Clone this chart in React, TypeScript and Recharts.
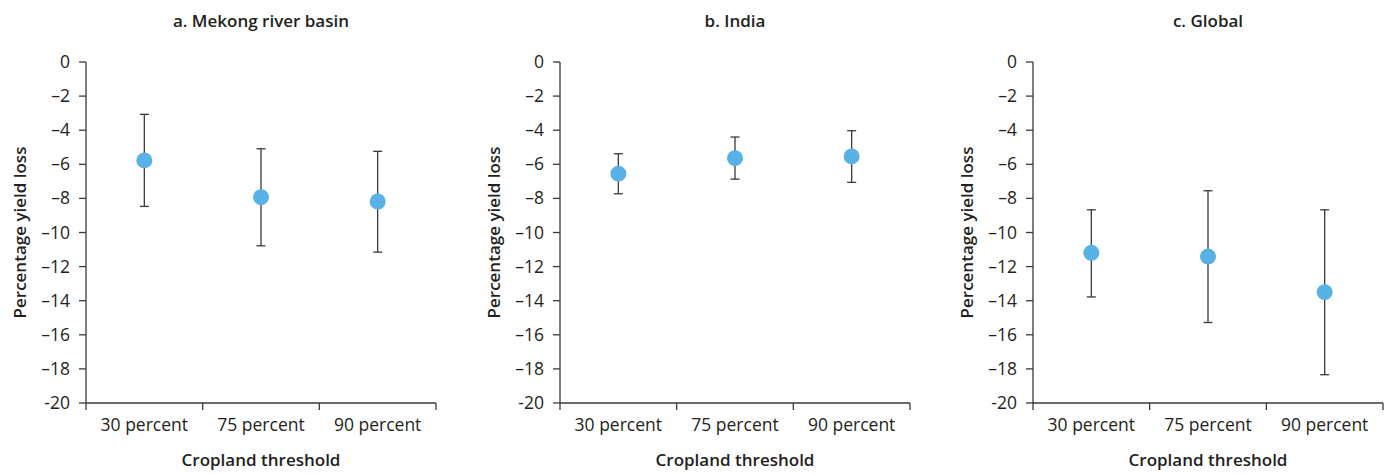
import { ComposedChart, Scatter, ErrorBar, XAxis, YAxis } from "recharts";

const categories = ["30 percent", "75 percent", "90 percent"];
const yTicks = [0, -2, -4, -6, -8, -10, -12, -14, -16, -18, -20];

const mekongMean = [-5.77, -7.93, -8.18];
const mekongLow = [-8.47, -10.78, -11.15];
const mekongHigh = [-3.07, -5.09, -5.24];

const indiaMean = [-6.55, -5.64, -5.54];
const indiaLow = [-7.73, -6.87, -7.06];
const indiaHigh = [-5.38, -4.4, -4.03];

const globalMean = [-11.19, -11.41, -13.5];
const globalLow = [-13.78, -15.28, -18.34];
const globalHigh = [-8.67, -7.55, -8.67];

const TEXT = "#231f20";
const AXIS = "#3a3a3a";
const DOT = "#59b2e6";
const FONT = "'Open Sans', 'Noto Sans', sans-serif";

const CHART_W = 442;
const CHART_H = 474;
const MARGIN = { top: 62, right: 6, bottom: 0, left: 0 };
const Y_AXIS_W = 86;
const X_AXIS_H = 71;
const PLOT_W = CHART_W - MARGIN.left - MARGIN.right - Y_AXIS_W;
const PLOT_H = CHART_H - MARGIN.top - MARGIN.bottom - X_AXIS_H;
const STEP = PLOT_W / categories.length;

function buildRows(mean: number[], low: number[], high: number[]) {
  return categories.map((cat, i) => ({
    cat,
    value: mean[i],
    err: [mean[i] - low[i], high[i] - mean[i]],
  }));
}

const CatTick = (props: any) => {
  const { x, y, payload, index } = props;
  return (
    <g>
      <line x1={x - STEP / 2} x2={x - STEP / 2} y1={y} y2={y + 7} stroke={AXIS} strokeWidth={1.3} />
      {index === categories.length - 1 && (
        <line x1={x + STEP / 2} x2={x + STEP / 2} y1={y} y2={y + 7} stroke={AXIS} strokeWidth={1.3} />
      )}
      <text x={x} y={y + 28} textAnchor="middle" fill={TEXT} fontSize={17.5} fontFamily={FONT}>
        {payload.value}
      </text>
    </g>
  );
};

const YTick = (props: any) => {
  const { x, y, payload } = props;
  const label = payload.value === 0 ? "0" : payload.value === -20 ? "-20" : "\u2013" + Math.abs(payload.value);
  return (
    <text x={x} y={y} dy={6} textAnchor="end" fill={TEXT} fontSize={17.5} fontFamily={FONT}>
      {label}
    </text>
  );
};

const Dot = (props: any) => <circle cx={props.cx} cy={props.cy} r={8} fill={DOT} />;

const labelStyle = {
  position: "absolute" as const,
  width: 300,
  textAlign: "center" as const,
  fontFamily: FONT,
  fontWeight: 600,
  fontSize: 17,
  lineHeight: "23px",
  color: TEXT,
};

function Panel({ title, rows }: { title: string; rows: any[] }) {
  const cx = Y_AXIS_W + PLOT_W / 2;
  return (
    <div style={{ position: "relative", width: CHART_W, height: CHART_H }}>
      <div style={{ ...labelStyle, left: cx - 150, top: 8.5 }}>{title}</div>
      <div style={{ ...labelStyle, left: cx - 150, top: 447.5 }}>Cropland threshold</div>
      <div
        style={{
          ...labelStyle,
          left: 18.5 - 150,
          top: MARGIN.top + PLOT_H / 2 - 11.5,
          transform: "rotate(-90deg)",
        }}
      >
        Percentage yield loss
      </div>
      <div style={{ position: "absolute", left: 0, top: 0 }}>
        <ComposedChart width={CHART_W} height={CHART_H} data={rows} margin={MARGIN}>
          <XAxis
            dataKey="cat"
            type="category"
            height={X_AXIS_H}
            interval={0}
            padding={{ left: STEP / 2, right: STEP / 2 }}
            tickSize={0}
            tickMargin={0}
            tickLine={false}
            axisLine={{ stroke: AXIS, strokeWidth: 1.3 }}
            tick={<CatTick />}
          />
          <YAxis
            type="number"
            domain={[-20, 0]}
            ticks={yTicks}
            interval={0}
            width={Y_AXIS_W}
            tickSize={7}
            tickMargin={9}
            tickLine={{ stroke: AXIS, strokeWidth: 1.3 }}
            axisLine={{ stroke: AXIS, strokeWidth: 1.3 }}
            tick={<YTick />}
          />
          <Scatter dataKey="value" shape={<Dot />} isAnimationActive={false}>
            <ErrorBar dataKey="err" direction="y" width={4.5} stroke={AXIS} strokeWidth={1.3} />
          </Scatter>
        </ComposedChart>
      </div>
    </div>
  );
}

export default function App() {
  return (
    <div style={{ position: "absolute", left: 0, top: 0, width: 1390, height: 474, background: "#fff" }}>
      <div style={{ position: "absolute", left: 0, top: 0 }}>
        <Panel title="a. Mekong river basin" rows={buildRows(mekongMean, mekongLow, mekongHigh)} />
      </div>
      <div style={{ position: "absolute", left: 474, top: 0 }}>
        <Panel title="b. India" rows={buildRows(indiaMean, indiaLow, indiaHigh)} />
      </div>
      <div style={{ position: "absolute", left: 947, top: 0 }}>
        <Panel title="c. Global" rows={buildRows(globalMean, globalLow, globalHigh)} />
      </div>
    </div>
  );
}
